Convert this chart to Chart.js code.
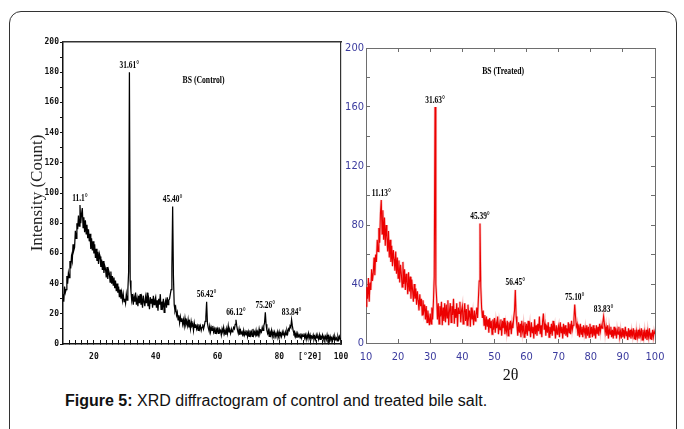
<!DOCTYPE html>
<html>
<head>
<meta charset="utf-8">
<script src="https://cdn.jsdelivr.net/npm/chart.js@4.4.1/dist/chart.umd.min.js"></script>
<style>
	html, body { margin: 0; padding: 0; background: #fff; }
	body { width: 684px; height: 429px; position: relative; overflow: hidden; font-family: "Liberation Sans", Arial, sans-serif; }
	#frame { position: absolute; left: 9px; top: 11px; width: 666px; height: 440px; border: 1px solid #333; border-radius: 12px; }
	#leftChart { position: absolute; left: 0; top: 0; }
	#rightChart { position: absolute; left: 345px; top: 0; }
	#caption { position: absolute; left: 65px; top: 392px; font-size: 16px; color: #111; white-space: nowrap; }
</style>
</head>
<body>
<div id="frame"></div>
<canvas id="leftChart" width="354" height="372"></canvas>
<canvas id="rightChart" width="339" height="385"></canvas>
<div id="caption"><b>Figure 5:</b> XRD diffractogram of control and treated bile salt.</div>

<script>
/* ---------- data (2θ in degrees, intensity in counts) ---------- */
const angles = [
	10, 10.25, 10.5, 10.75, 11, 11.25, 11.5, 11.75, 12, 12.25, 12.5, 12.75, 13, 13.25, 13.5, 13.75, 14, 14.25, 14.5, 14.75,
	15, 15.25, 15.5, 15.75, 16, 16.25, 16.5, 16.75, 17, 17.25, 17.5, 17.75, 18, 18.25, 18.5, 18.75, 19, 19.25, 19.5, 19.75,
	20, 20.25, 20.5, 20.75, 21, 21.25, 21.5, 21.75, 22, 22.25, 22.5, 22.75, 23, 23.25, 23.5, 23.75, 24, 24.25, 24.5, 24.75,
	25, 25.25, 25.5, 25.75, 26, 26.25, 26.5, 26.75, 27, 27.25, 27.5, 27.75, 28, 28.25, 28.5, 28.75, 29, 29.25, 29.5, 29.75,
	30, 30.25, 30.5, 30.75, 31, 31.25, 31.5, 31.75, 32, 32.25, 32.5, 32.75, 33, 33.25, 33.5, 33.75, 34, 34.25, 34.5, 34.75,
	35, 35.25, 35.5, 35.75, 36, 36.25, 36.5, 36.75, 37, 37.25, 37.5, 37.75, 38, 38.25, 38.5, 38.75, 39, 39.25, 39.5, 39.75,
	40, 40.25, 40.5, 40.75, 41, 41.25, 41.5, 41.75, 42, 42.25, 42.5, 42.75, 43, 43.25, 43.5, 43.75, 44, 44.25, 44.5, 44.75,
	45, 45.25, 45.5, 45.75, 46, 46.25, 46.5, 46.75, 47, 47.25, 47.5, 47.75, 48, 48.25, 48.5, 48.75, 49, 49.25, 49.5, 49.75,
	50, 50.25, 50.5, 50.75, 51, 51.25, 51.5, 51.75, 52, 52.25, 52.5, 52.75, 53, 53.25, 53.5, 53.75, 54, 54.25, 54.5, 54.75,
	55, 55.25, 55.5, 55.75, 56, 56.25, 56.5, 56.75, 57, 57.25, 57.5, 57.75, 58, 58.25, 58.5, 58.75, 59, 59.25, 59.5, 59.75,
	60, 60.25, 60.5, 60.75, 61, 61.25, 61.5, 61.75, 62, 62.25, 62.5, 62.75, 63, 63.25, 63.5, 63.75, 64, 64.25, 64.5, 64.75,
	65, 65.25, 65.5, 65.75, 66, 66.25, 66.5, 66.75, 67, 67.25, 67.5, 67.75, 68, 68.25, 68.5, 68.75, 69, 69.25, 69.5, 69.75,
	70, 70.25, 70.5, 70.75, 71, 71.25, 71.5, 71.75, 72, 72.25, 72.5, 72.75, 73, 73.25, 73.5, 73.75, 74, 74.25, 74.5, 74.75,
	75, 75.25, 75.5, 75.75, 76, 76.25, 76.5, 76.75, 77, 77.25, 77.5, 77.75, 78, 78.25, 78.5, 78.75, 79, 79.25, 79.5, 79.75,
	80, 80.25, 80.5, 80.75, 81, 81.25, 81.5, 81.75, 82, 82.25, 82.5, 82.75, 83, 83.25, 83.5, 83.75, 84, 84.25, 84.5, 84.75,
	85, 85.25, 85.5, 85.75, 86, 86.25, 86.5, 86.75, 87, 87.25, 87.5, 87.75, 88, 88.25, 88.5, 88.75, 89, 89.25, 89.5, 89.75,
	90, 90.25, 90.5, 90.75, 91, 91.25, 91.5, 91.75, 92, 92.25, 92.5, 92.75, 93, 93.25, 93.5, 93.75, 94, 94.25, 94.5, 94.75,
	95, 95.25, 95.5, 95.75, 96, 96.25, 96.5, 96.75, 97, 97.25, 97.5, 97.75, 98, 98.25, 98.5, 98.75, 99, 99.25, 99.5, 99.75,
	100
];

const control = [
	33, 28, 38, 34, 36, 45, 40, 47, 44, 55, 50, 58, 55, 66, 62, 64, 75, 70, 80, 76,
	85, 78, 92, 80, 86, 90, 77, 84, 74, 82, 73, 79, 70, 76, 68, 73, 63, 70, 62, 68,
	60, 66, 57, 63, 55, 61, 53, 60, 58, 51, 56, 49, 55, 47, 52, 50, 44, 51, 43, 49,
	47, 41, 48, 40, 45, 39, 44, 37, 42, 35, 40, 34, 38, 31, 36, 30, 34, 29, 33, 28,
	30, 27, 33, 29, 36, 48, 180, 42, 35, 29, 33, 26, 31, 28, 34, 26, 30, 25, 32, 27,
	33, 26, 30, 24, 32, 28, 25, 31, 27, 34, 25, 29, 23, 31, 27, 30, 24, 32, 26, 29,
	31, 24, 29, 22, 30, 26, 33, 23, 28, 25, 30, 21, 27, 29, 24, 31, 26, 29, 30, 33,
	36, 50, 91, 45, 26, 22, 24, 19, 21, 16, 19, 14, 18, 15, 17, 13, 16, 12, 17, 13,
	15, 12, 16, 11, 14, 10, 15, 12, 13, 9, 14, 11, 13, 10, 12, 9, 13, 10, 12, 9,
	11, 13, 10, 12, 15, 18, 28, 14, 11, 9, 12, 8, 11, 9, 12, 8, 10, 7, 11, 8,
	10, 7, 11, 8, 9, 6, 10, 8, 11, 7, 9, 6, 10, 7, 12, 8, 9, 7, 10, 8,
	9, 11, 10, 13, 16, 12, 9, 7, 10, 6, 9, 7, 8, 5, 9, 6, 8, 6, 9, 5,
	8, 5, 9, 6, 8, 5, 10, 6, 8, 6, 9, 5, 8, 6, 10, 7, 9, 8, 11, 9,
	12, 14, 21, 13, 9, 7, 9, 5, 8, 6, 9, 5, 8, 6, 8, 5, 7, 5, 8, 5,
	8, 5, 7, 5, 8, 6, 7, 5, 8, 6, 9, 7, 10, 9, 12, 11, 16, 12, 9, 7,
	8, 5, 7, 4, 7, 5, 6, 4, 7, 4, 6, 5, 7, 4, 6, 3, 6, 4, 7, 4,
	6, 3, 5, 4, 6, 3, 5, 3, 6, 4, 5, 3, 6, 3, 5, 4, 6, 3, 5, 3,
	5, 3, 6, 3, 5, 2, 5, 3, 4, 2, 5, 3, 5, 3, 4, 2, 5, 3, 5, 3,
	4
];

const treated = [
	25, 38, 30, 44, 28, 41, 36, 50, 42, 47, 58, 46, 60, 55, 70, 62, 78, 68, 88, 97,
	74, 90, 70, 85, 66, 80, 72, 62, 76, 58, 70, 55, 66, 52, 63, 57, 49, 62, 47, 58,
	44, 56, 41, 53, 47, 38, 55, 40, 50, 36, 47, 41, 33, 48, 35, 45, 30, 43, 36, 28,
	40, 30, 37, 26, 35, 29, 22, 33, 25, 30, 19, 29, 22, 26, 16, 25, 14, 22, 17, 12,
	20, 13, 24, 16, 28, 45, 160, 40, 30, 16, 27, 13, 25, 18, 28, 12, 24, 15, 27, 14,
	26, 17, 29, 12, 22, 27, 14, 25, 19, 30, 13, 23, 17, 27, 11, 24, 20, 28, 14, 22,
	25, 13, 21, 27, 15, 23, 12, 26, 18, 22, 11, 24, 16, 20, 12, 22, 15, 19, 24, 17,
	30, 42, 81, 38, 24, 17, 22, 12, 19, 9, 18, 11, 16, 7, 17, 10, 15, 6, 16, 9,
	17, 7, 14, 10, 18, 6, 13, 9, 16, 5, 15, 10, 17, 6, 12, 8, 15, 5, 14, 9,
	15, 6, 13, 10, 17, 22, 36, 18, 12, 5, 14, 7, 13, 4, 15, 8, 12, 4, 14, 6,
	13, 5, 15, 8, 12, 4, 14, 7, 11, 3, 16, 6, 12, 5, 13, 8, 18, 6, 12, 4,
	15, 20, 9, 13, 5, 12, 7, 14, 4, 11, 6, 13, 5, 15, 8, 11, 3, 12, 6, 10,
	12, 4, 14, 7, 11, 3, 13, 6, 12, 5, 10, 4, 14, 7, 13, 6, 15, 9, 12, 16,
	26, 18, 11, 13, 5, 12, 4, 13, 6, 11, 4, 12, 7, 10, 3, 12, 5, 11, 4, 13,
	6, 11, 4, 12, 5, 10, 3, 12, 6, 11, 5, 13, 8, 12, 10, 14, 18, 13, 7, 11,
	5, 12, 3, 10, 6, 11, 4, 9, 3, 11, 5, 10, 3, 9, 6, 11, 4, 8, 3, 10,
	4, 9, 3, 11, 5, 8, 2, 10, 4, 9, 3, 8, 5, 10, 3, 9, 2, 8, 4, 9,
	3, 8, 5, 10, 2, 9, 4, 8, 3, 9, 2, 8, 4, 10, 3, 7, 2, 9, 4, 8,
	6
];

// peak annotations: text + angle of the marked point
const controlPeakText = ['11.1°', '31.61°', '45.40°', '56.42°', '66.12°', '75.26°', '83.84°'];
const controlPeakAt = [15.5, 31.5, 45.5, 56.5, 66, 75.5, 84];
const treatedPeakText = ['11.13°', '31.63°', '45.39°', '56.45°', '75.10°', '83.83°'];
const treatedPeakAt = [14.75, 31.5, 45.5, 56.5, 75, 84];

const leftXTicks = { 20: '20', 40: '40', 60: '60', 80: '80', 90: '[°2θ]', 100: '100' };
const leftYTicks = [0, 20, 40, 60, 80, 100, 120, 140, 160, 180, 200];
const rightYTicks = [0, 40, 80, 120, 160, 200];

/* ---------- plugin: peak labels + sample name ---------- */
const peakLabels = {
	id: 'peakLabels',
	afterDatasetsDraw(chart, args, o) {
		if (!o || !o.texts) return;
		const { ctx } = chart;
		const xs = chart.scales.x, ys = chart.scales.y;
		const vals = chart.data.datasets[0].data;
		ctx.save();
		ctx.fillStyle = '#000';
		ctx.textAlign = 'center';
		ctx.textBaseline = 'bottom';
		ctx.font = 'bold 10px "Liberation Serif", "Times New Roman", serif';
		o.texts.forEach((t, i) => {
			const k = angles.indexOf(o.at[i]);
			const px = xs.getPixelForValue(angles[k]);
			const py = ys.getPixelForValue(vals[k]) - 2;
			ctx.save(); ctx.translate(px, py); ctx.scale(0.74, 1); ctx.fillText(t, 0, 0); ctx.restore();
		});
		if (o.name) {
			ctx.font = 'bold 11px "Liberation Serif", "Times New Roman", serif';
			ctx.textBaseline = 'middle';
			const px = xs.getPixelForValue(o.name.x), py = ys.getPixelForValue(o.name.y);
			ctx.save(); ctx.translate(px, py); ctx.scale(0.7, 1); ctx.fillText(o.name.text, 0, 0); ctx.restore();
		}
		ctx.restore();
	}
};

function noSidePad(s) { s.paddingLeft = 0; s.paddingRight = 0; }

const tickFontL = { family: '"DejaVu Sans Mono", monospace', size: 8, weight: 'bold' };

/* ---------- left: control ---------- */
new Chart(document.getElementById('leftChart'), {
	type: 'line',
	data: { labels: angles, datasets: [{ data: control, borderColor: '#000', borderWidth: 1.25, pointRadius: 0, tension: 0 }] },
	options: {
		responsive: false, animation: false,
		layout: { padding: { top: 42, right: 13, left: 0, bottom: 0 } },
		plugins: {
			legend: { display: false }, tooltip: { enabled: false },
			peakLabels: { texts: controlPeakText, at: controlPeakAt, name: { text: 'BS (Control)', x: 55.5, y: 175 } }
		},
		scales: {
			x: {
				type: 'linear', min: 10, max: 100,
				afterBuildTicks: s => { s.ticks = []; for (const a of angles) if (a % 2 === 0 && a > 10) s.ticks.push({ value: a }); },
				ticks: { autoSkip: false, maxRotation: 0, padding: 12, color: '#111', font: tickFontL, callback: v => leftXTicks[v] ?? '' },
				grid: { drawOnChartArea: false, tickLength: -4, color: '#111', tickWidth: 1 },
				border: { color: '#111', width: 1.5 },
				afterFit: s => { s.height = 28; noSidePad(s); }
			},
			y: {
				min: 0, max: 200,
				afterBuildTicks: s => { s.ticks = []; for (const v of leftYTicks) { s.ticks.push({ value: v }); if (v < 200) s.ticks.push({ value: v + 10 }); } },
				ticks: { autoSkip: false, padding: 1, color: '#111', font: tickFontL, callback: v => leftYTicks.includes(v) ? String(v) : '' },
				grid: { drawOnChartArea: false, tickLength: 3, color: '#111' },
				border: { color: '#111', width: 1.5 },
				title: { display: true, text: 'Intensity (Count)', color: '#222', padding: { top: 27 }, font: { family: '"Liberation Serif", "Times New Roman", serif', size: 17 } },
				afterFit: s => { s.width = 63; }
			},
			x2: {
				type: 'linear', position: 'top', min: 10, max: 100,
				ticks: { display: false }, grid: { display: false, drawTicks: false },
				border: { color: '#333', width: 1.5, dash: [5, 2] },
				afterFit: s => { s.height = 0; noSidePad(s); }
			},
			y2: {
				position: 'right', min: 0, max: 200,
				ticks: { display: false }, grid: { display: false, drawTicks: false },
				border: { color: '#333', width: 1.2 },
				afterFit: s => { s.width = 0; }
			}
		}
	},
	plugins: [peakLabels]
});

/* ---------- right: treated ---------- */
const tickFontR = { family: '"Liberation Sans Narrow", "DejaVu Sans Condensed", "Liberation Sans", sans-serif', size: 11 };
const axisGray = '#6e6e6e';

new Chart(document.getElementById('rightChart'), {
	type: 'line',
	data: {
		labels: angles,
		datasets: [
			{ data: treated, borderColor: 'rgb(236,0,0)', borderWidth: 1.1, pointRadius: 0, tension: 0 },
			{ data: treated, borderColor: 'rgba(235,90,90,0.35)', borderWidth: 2.5, pointRadius: 0, tension: 0 }
		]
	},
	options: {
		responsive: false, animation: false,
		layout: { padding: { top: 48, right: 29, left: 0, bottom: 0 } },
		plugins: {
			legend: { display: false }, tooltip: { enabled: false },
			peakLabels: { texts: treatedPeakText, at: treatedPeakAt, name: { text: 'BS (Treated)', x: 52.7, y: 184 } }
		},
		scales: {
			x: {
				type: 'linear', min: 10, max: 100,
				ticks: { stepSize: 10, maxRotation: 0, padding: 12, color: '#3b3b9e', font: tickFontR },
				grid: { drawOnChartArea: false, tickLength: -4, color: axisGray },
				border: { color: axisGray, width: 1 },
				title: { display: true, text: '2θ', color: '#111', padding: { top: 0, bottom: 0 }, font: { family: '"Liberation Serif", "Times New Roman", serif', size: 16 } },
				afterFit: s => { s.height = 42; noSidePad(s); }
			},
			y: {
				min: 0, max: 200,
				ticks: { stepSize: 20, autoSkip: false, padding: 6, color: '#3b3b9e', font: tickFontR, callback: v => rightYTicks.includes(v) ? String(v) : '' },
				grid: { drawOnChartArea: false, tickLength: -4, color: axisGray },
				border: { color: axisGray, width: 1 },
				afterFit: s => { s.width = 21; }
			},
			x2: {
				type: 'linear', position: 'top', min: 10, max: 100,
				ticks: { stepSize: 10, display: false },
				grid: { drawOnChartArea: false, tickLength: -4, color: axisGray },
				border: { color: axisGray, width: 1 },
				afterFit: s => { s.height = 0; noSidePad(s); }
			},
			y2: {
				position: 'right', min: 0, max: 200,
				ticks: { stepSize: 20, display: false },
				grid: { drawOnChartArea: false, tickLength: -4, color: axisGray },
				border: { color: axisGray, width: 1 },
				afterFit: s => { s.width = 0; }
			}
		}
	},
	plugins: [peakLabels]
});
</script>
</body>
</html>
